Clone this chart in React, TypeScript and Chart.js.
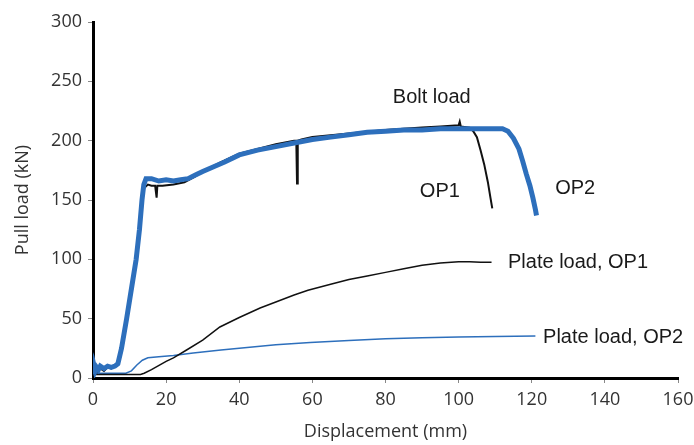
import React, { useEffect, useRef } from "react";
import { Chart, registerables } from "chart.js";

Chart.register(...registerables);

// Bolt load, OP2 (blue, thick)
const boltOP2X = [0, 0.3, 0.6, 1, 1.5, 2, 3, 4, 5, 6, 6.8, 7.8, 9.2, 10.5, 11.8, 12.7, 13.4, 13.9, 14.5, 16, 18, 20, 22, 24, 26, 28, 30, 33, 36, 40, 45, 50, 55, 60, 65, 70, 75, 80, 85, 90, 95, 100, 105, 110, 112, 113.5, 115, 116.5, 117.5, 118.5, 119.5, 120.3, 121, 121.3];
const boltOP2Y = [3, 10, 6, 9, 7, 10, 8, 10, 9, 10, 12, 25, 50, 75, 100, 125, 150, 163, 168, 168, 166, 167, 166, 167, 168, 171, 174, 178, 182, 188, 192, 195, 198, 201, 203, 205, 207, 208, 209, 209, 210, 210, 210, 210, 210, 208, 202, 193, 183, 172, 162, 152, 142, 137];

// Bolt load, OP1 (black)
const boltOP1X = [0, 0.5, 1, 2, 3, 4, 5, 6, 7, 8, 9.4, 10.7, 12, 12.9, 13.5, 14, 15, 16, 17, 17.4, 17.6, 19, 22, 25, 28, 30, 35, 40, 45, 50, 55, 55.6, 55.8, 56, 57, 60, 70, 80, 90, 95, 100, 100.3, 100.6, 103, 104, 105, 106, 107, 108, 108.7, 109.2];
const boltOP1Y = [2, 8, 5, 8, 6, 9, 8, 10, 12, 25, 50, 75, 100, 125, 150, 160, 163, 162, 162, 152, 162, 162, 163, 165, 170, 174, 182, 189, 193, 197, 200, 200, 164, 200, 201, 203, 206, 209, 211, 212, 213, 216, 212, 211, 208, 203, 192, 180, 165, 152, 143];

// Plate load, OP1 (black, thin)
const plateOP1X = [0, 5, 10, 13, 14, 16, 18.3, 20, 22, 25.6, 30, 34.7, 40, 45.7, 50, 55, 58.8, 65, 70, 75, 80, 85, 90, 95, 100, 103, 106, 109];
const plateOP1Y = [3, 3, 3, 3, 4, 7, 11, 14, 17, 23.6, 32, 43, 51, 59, 64, 70, 74, 79, 83, 86, 89, 92, 95, 97, 98, 98, 97.5, 97.5];

// Plate load, OP2 (blue, thin)
const plateOP2X = [0, 5, 9, 10.5, 12, 13.5, 15, 18, 22, 27.4, 35, 40, 50, 59.4, 70, 80, 90, 100, 110, 121];
const plateOP2Y = [4, 4, 4, 6, 11, 15, 17, 18, 19, 21, 23.5, 25, 28, 30, 31.5, 33, 34, 34.5, 35, 35.4];

// Annotation labels (data coordinates of left-middle anchor)
const labelTexts = ["Bolt load", "OP1", "OP2", "Plate load, OP1", "Plate load, OP2"];
const labelX = [82, 89.4, 126.4, 113.5, 123.1];
const labelY = [236, 157, 160, 97, 34];

const xTicks = [0, 20, 40, 60, 80, 100, 120, 140, 160];
const yTicks = [0, 50, 100, 150, 200, 250, 300];

const toPts = (xs: number[], ys: number[]) => xs.map((x, i) => ({ x, y: ys[i] }));

const BLUE = "#2d6fbc";
const TICK_FONT = { family: "'Open Sans'", size: 18 };

const labelPlugin = {
  id: "labels",
  afterDatasetsDraw(chart: any) {
    const { ctx, scales } = chart;
    ctx.save();
    ctx.font = '20px "Liberation Sans"';
    ctx.fillStyle = "#1a1a1a";
    ctx.textAlign = "left";
    ctx.textBaseline = "middle";
    labelTexts.forEach((t, i) => {
      ctx.fillText(t, scales.x.getPixelForValue(labelX[i]), scales.y.getPixelForValue(labelY[i]));
    });
    ctx.restore();
  },
};

export default function App() {
  const ref = useRef<HTMLCanvasElement>(null);
  useEffect(() => {
    document.body.style.margin = "0";
    const chart = new Chart(ref.current!, {
      type: "scatter",
      data: {
        datasets: [
          { data: toPts(boltOP2X, boltOP2Y), borderColor: BLUE, borderWidth: 5, showLine: true, pointRadius: 0, tension: 0 },
          { data: toPts(boltOP1X, boltOP1Y), borderColor: "#111", borderWidth: 2, showLine: true, pointRadius: 0, tension: 0 },
          { data: toPts(plateOP1X, plateOP1Y), borderColor: "#111", borderWidth: 1.5, showLine: true, pointRadius: 0, tension: 0 },
          { data: toPts(plateOP2X, plateOP2Y), borderColor: BLUE, borderWidth: 1.5, showLine: true, pointRadius: 0, tension: 0 },
        ],
      },
      options: {
        animation: false,
        responsive: false,
        layout: { padding: { top: 22, right: 16, left: 0, bottom: 0 } },
        plugins: { legend: { display: false }, tooltip: { enabled: false } },
        scales: {
          x: {
            type: "linear",
            min: 0,
            max: 160,
            afterBuildTicks: (s: any) => { s.ticks = xTicks.map((v) => ({ value: v })); },
            afterFit: (s: any) => { s.height = 67; s.paddingRight = 0; s.paddingLeft = 0; },
            ticks: { font: TICK_FONT, color: "#333", padding: 6 },
            grid: { drawOnChartArea: false, tickLength: 5, color: "#888" },
            border: { display: true, color: "#000", width: 3 },
            title: { display: true, text: "Displacement (mm)", font: TICK_FONT, color: "#333", padding: { top: 0, bottom: 2 } },
          },
          y: {
            type: "linear",
            min: 0,
            max: 300,
            afterBuildTicks: (s: any) => { s.ticks = yTicks.map((v) => ({ value: v })); },
            afterFit: (s: any) => { s.width = 93; s.paddingTop = 0; s.paddingBottom = 0; },
            ticks: { font: TICK_FONT, color: "#333", padding: 6 },
            grid: { drawOnChartArea: false, tickLength: 5, color: "#888" },
            border: { display: true, color: "#000", width: 3 },
            title: { display: true, text: "Pull load (kN)", font: TICK_FONT, color: "#333", padding: { top: 12, bottom: 0 } },
          },
        },
      },
      plugins: [labelPlugin],
    });
    return () => chart.destroy();
  }, []);
  return (
    <div style={{ width: 694, height: 445 }}>
      <canvas ref={ref} width={694} height={445} />
    </div>
  );
}
